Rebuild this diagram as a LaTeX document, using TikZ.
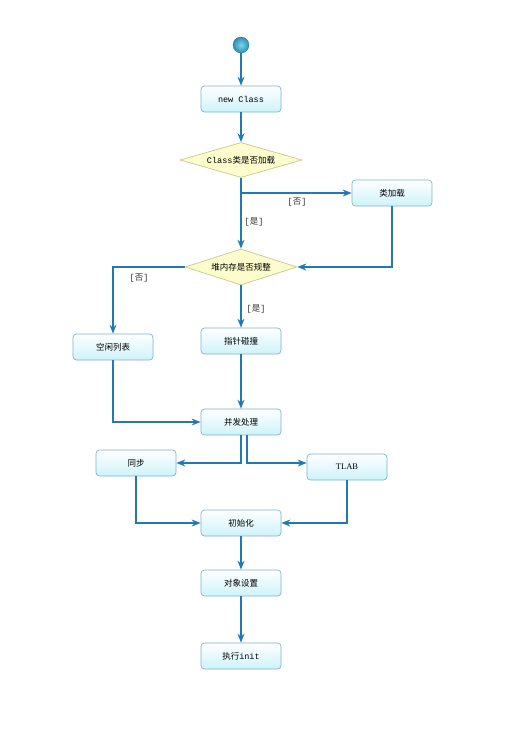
\documentclass[tikz,border=0pt]{standalone}
\usepackage{fontspec}
\setmainfont{Liberation Mono}
\newfontfamily\cjk{Noto Sans CJK SC}
\newfontfamily\serifb{Liberation Serif}
\usetikzlibrary{shapes.geometric,arrows.meta,calc}
\definecolor{lineblue}{HTML}{1F7AB2}
\definecolor{boxedge}{HTML}{7FB3CF}
\definecolor{boxfill}{HTML}{CDF3FA}
\definecolor{diafill}{HTML}{FCFCCC}
\definecolor{diaedge}{HTML}{C9C78F}
\definecolor{ballin}{HTML}{7FD3EA}
\definecolor{ballout}{HTML}{2A8FB5}
\begin{document}
\begin{tikzpicture}[x=1pt,y=-1pt,
  actbox/.style={draw=boxedge,line width=0.7pt,rounded corners=3.5pt,minimum width=80pt,minimum height=26pt,
    top color=white,bottom color=boxfill,inner sep=0pt,font=\fontsize{8.5}{9}\selectfont},
  decision/.style={diamond,draw=diaedge,line width=0.7pt,fill=diafill,aspect=3.4,inner sep=0pt,font=\fontsize{8.5}{9}\selectfont},
  flow/.style={draw=lineblue,line width=1.3pt,-{Stealth[length=9pt,width=7pt,inset=3pt]}},
  lbl/.style={font=\fontsize{8.5}{9}\selectfont,text=black!80}]
\useasboundingbox (0,0) rectangle (521,732);
\fill[white] (0,0) rectangle (521,732);
% nodes
\node[circle,minimum size=16pt,inner sep=0pt,inner color=ballin,outer color=ballout,draw=ballout!80!black,line width=0.3pt] (start) at (241,45) {};
\node[actbox] (newc) at (241,99) {new Class};
\node[decision,minimum width=122pt,minimum height=35pt] (d1) at (241,160) {Class{\cjk 类是否加载}};
\node[actbox] (load) at (392,193) {\cjk 类加载};
\node[decision,minimum width=112pt,minimum height=36pt] (d2) at (241,267) {\cjk 堆内存是否规整};
\node[actbox] (free) at (113,347) {\cjk 空闲列表};
\node[actbox] (ptr) at (241,341) {\cjk 指针碰撞};
\node[actbox] (conc) at (241,422) {\cjk 并发处理};
\node[actbox] (sync) at (136,463) {\cjk 同步};
\node[actbox] (tlab) at (347,467) {\serifb TLAB};
\node[actbox] (init) at (241,523) {\cjk 初始化};
\node[actbox] (objs) at (241,583) {\cjk 对象设置};
\node[actbox] (exec) at (241,656) {{\cjk 执行}init};
% connectors
\draw[flow] (start) -- (newc);
\draw[flow] (newc) -- (d1);
\coordinate (b1) at (241,193);
\draw[flow] (d1.south) -- (b1) -- (load.west);
\draw[flow] (d1.south) -- (d2.north);
\draw[flow] (load.south) |- (d2.east);
\draw[flow] (d2.west) -| (free.north);
\draw[flow] (d2.south) -- (ptr.north);
\draw[flow] (ptr.south) -- (conc.north);
\draw[flow] (free.south) |- (conc.west);
\coordinate (c1) at (241,463);
\coordinate (c2) at (247,463);
\draw[flow] (conc.south) -- (c1) -- (sync.east);
\draw[flow] (c2|-conc.south) -- (c2) -- (c2-|tlab.west);
\draw[flow] (sync.south) |- (init.west);
\draw[flow] (tlab.south) |- (init.east);
\draw[flow] (init) -- (objs);
\draw[flow] (objs) -- (exec);
% labels
\node[lbl] at (297,202) {[{\cjk 否}]};
\node[lbl] at (254,222) {[{\cjk 是}]};
\node[lbl] at (139,278) {[{\cjk 否}]};
\node[lbl] at (256,309) {[{\cjk 是}]};
\end{tikzpicture}
\end{document}
